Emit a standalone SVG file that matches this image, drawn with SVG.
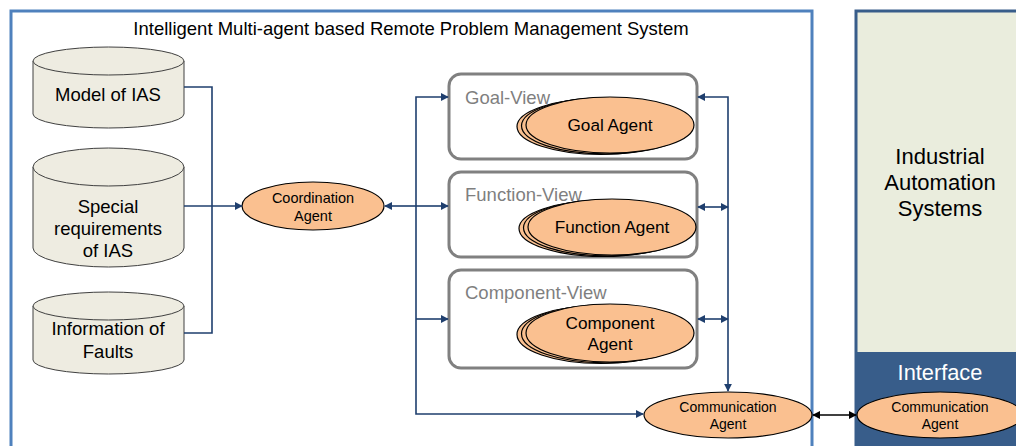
<svg xmlns="http://www.w3.org/2000/svg" width="1016" height="446" viewBox="0 0 1016 446">
  <style>
    text { font-family: "Liberation Sans", Arial, sans-serif; fill: #000; text-anchor: middle; }
    .cyl { fill: #EEECE1; stroke: #404040; stroke-width: 1; }
    .agent { fill: #FAC090; stroke: #000; stroke-width: 1.2; }
    .view { fill: #fff; stroke: #808080; stroke-width: 3; }
    .viewlbl { fill: #7F7F7F; font-size: 18.5px; text-anchor: start; }
    .conn { fill: none; stroke: #1F3F6E; stroke-width: 1.6; }
    .big { font-size: 18.5px; }
    .agentlbl { font-size: 17.2px; }
    .small { font-size: 14px; }
  </style>
  <defs>
    <marker id="arr" viewBox="0 0 10 10" refX="9" refY="5" markerWidth="8" markerHeight="8" orient="auto-start-reverse" markerUnits="userSpaceOnUse">
      <path d="M0,0 L10,5 L0,10 z" fill="#1F3F6E"/>
    </marker>
    <marker id="arrK" viewBox="0 0 10 10" refX="9" refY="5" markerWidth="8" markerHeight="8" orient="auto-start-reverse" markerUnits="userSpaceOnUse">
      <path d="M0,0 L10,5 L0,10 z" fill="#000"/>
    </marker>
  </defs>

  <rect width="1016" height="446" fill="#fff"/>

  <!-- main system frame -->
  <g id="system-frame">
    <rect x="11" y="11" width="801" height="450" fill="#fff" stroke="#4F81BD" stroke-width="3"/>
    <text x="411" y="35" font-size="18.5">Intelligent Multi-agent based Remote Problem Management System</text>
  </g>

  <!-- industrial automation systems panel -->
  <g id="ias-panel">
    <rect x="856" y="11" width="170" height="450" fill="#EAEDDD" stroke="#385D8A" stroke-width="3"/>
    <rect x="856" y="352" width="170" height="100" fill="#385D8A"/>
    <text x="940" y="164" font-size="22">Industrial</text>
    <text x="940" y="190" font-size="22">Automation</text>
    <text x="940" y="216" font-size="22">Systems</text>
    <text x="940" y="380" font-size="21.8" style="fill:#fff">Interface</text>
  </g>

  <!-- data stores -->
  <g id="model-of-ias">
    <path class="cyl" d="M33,61 A75.5,14 0 0 1 184,61 V114 A75.5,14 0 0 1 33,114 Z"/>
    <path class="cyl" d="M33,61 A75.5,14 0 0 0 184,61" fill="none"/>
    <text class="big" x="108" y="101">Model of IAS</text>
  </g>
  <g id="special-requirements">
    <path class="cyl" d="M33,167 A75.5,19 0 0 1 184,167 V248 A75.5,19 0 0 1 33,248 Z"/>
    <path class="cyl" d="M33,167 A75.5,19 0 0 0 184,167" fill="none"/>
    <text class="big" x="108" y="213">Special</text>
    <text class="big" x="108" y="235">requirements</text>
    <text class="big" x="108" y="257">of IAS</text>
  </g>
  <g id="information-of-faults">
    <path class="cyl" d="M33,306 A75.5,14 0 0 1 184,306 V360 A75.5,14 0 0 1 33,360 Z"/>
    <path class="cyl" d="M33,306 A75.5,14 0 0 0 184,306" fill="none"/>
    <text class="big" x="108" y="335">Information of</text>
    <text class="big" x="108" y="358">Faults</text>
  </g>

  <!-- coordination agent -->
  <g id="coordination-agent">
    <ellipse class="agent" cx="313" cy="206" rx="71" ry="24"/>
    <text x="313" y="203" font-size="14.5">Coordination</text>
    <text x="313" y="221" font-size="14.5">Agent</text>
  </g>

  <!-- views -->
  <g id="goal-view">
    <rect class="view" x="449" y="74" width="248" height="85" rx="12"/>
    <text class="viewlbl" x="465" y="104">Goal-View</text>
    <ellipse class="agent" cx="601" cy="126.5" rx="84" ry="28"/>
    <ellipse class="agent" cx="605.5" cy="125.8" rx="84" ry="28"/>
    <ellipse class="agent" cx="610" cy="125" rx="84" ry="28"/>
    <text class="agentlbl" x="610" y="131">Goal Agent</text>
  </g>
  <g id="function-view">
    <rect class="view" x="449" y="172" width="248" height="85" rx="12"/>
    <text class="viewlbl" x="465" y="201">Function-View</text>
    <ellipse class="agent" cx="603" cy="228.5" rx="84" ry="28"/>
    <ellipse class="agent" cx="607.5" cy="227.8" rx="84" ry="28"/>
    <ellipse class="agent" cx="612" cy="227" rx="84" ry="28"/>
    <text class="agentlbl" x="612" y="233">Function Agent</text>
  </g>
  <g id="component-view">
    <rect class="view" x="449" y="270" width="248" height="98" rx="12"/>
    <text class="viewlbl" x="465" y="299">Component-View</text>
    <ellipse class="agent" cx="601" cy="334.5" rx="84" ry="29"/>
    <ellipse class="agent" cx="605.5" cy="333.8" rx="84" ry="29"/>
    <ellipse class="agent" cx="610" cy="333" rx="84" ry="29"/>
    <text class="agentlbl" x="610" y="329">Component</text>
    <text class="agentlbl" x="610" y="350">Agent</text>
  </g>

  <!-- communication agents -->
  <g id="communication-agent">
    <ellipse class="agent" cx="728" cy="415" rx="84" ry="23"/>
    <text class="small" x="728" y="412">Communication</text>
    <text class="small" x="728" y="429">Agent</text>
  </g>
  <g id="interface-communication-agent">
    <ellipse class="agent" cx="940" cy="415" rx="83" ry="23"/>
    <text class="small" x="940" y="412">Communication</text>
    <text class="small" x="940" y="429">Agent</text>
  </g>

  <!-- connectors -->
  <g id="connectors">
    <polyline class="conn" points="184,87 212,87 212,333 184,333"/>
    <line class="conn" x1="184" y1="206" x2="242" y2="206" marker-end="url(#arr)"/>
    <line class="conn" x1="416" y1="206" x2="385" y2="206" marker-end="url(#arr)"/>
    <polyline class="conn" points="448,97 416,97 416,414 643,414" marker-start="url(#arr)" marker-end="url(#arr)"/>
    <line class="conn" x1="416" y1="206" x2="448" y2="206" marker-end="url(#arr)"/>
    <line class="conn" x1="416" y1="319" x2="448" y2="319" marker-end="url(#arr)"/>
    <polyline class="conn" points="698,97 728,97 728,391" marker-start="url(#arr)" marker-end="url(#arr)"/>
    <line class="conn" x1="698" y1="207" x2="728" y2="207" marker-start="url(#arr)" marker-end="url(#arr)"/>
    <line class="conn" x1="698" y1="319" x2="728" y2="319" marker-start="url(#arr)" marker-end="url(#arr)"/>
    <line x1="813" y1="415" x2="856" y2="415" stroke="#000" stroke-width="1.6" marker-start="url(#arrK)" marker-end="url(#arrK)"/>
  </g>
</svg>
